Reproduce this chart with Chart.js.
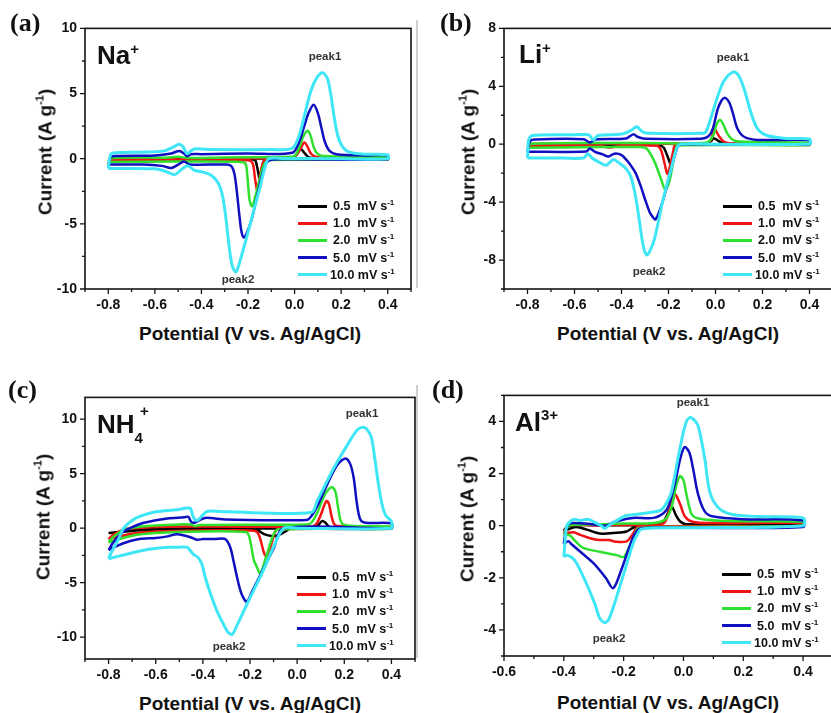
<!DOCTYPE html>
<html>
<head>
<meta charset="utf-8">
<title>CV curves at different scan rates</title>
<script src="https://cdn.jsdelivr.net/npm/chart.js@4.4.1/dist/chart.umd.min.js"></script>
<style>
  html, body { margin: 0; padding: 0; background: #fff; }
  #fig { position: relative; width: 831px; height: 713px; overflow: hidden; background: #fff;
         font-family: "Liberation Sans", Arial, sans-serif; color: #111; }
  #fig canvas { position: absolute; }
  .t { position: absolute; white-space: nowrap; line-height: 1; }
  .plab { font: bold 26px "Liberation Serif", "Times New Roman", serif; }
  .ion { font-weight: bold; font-size: 26px; }
  .ion .sp { font-size: 15px; position: relative; }
  .peak { font-weight: bold; font-size: 11.5px; color: #333; transform: translate(-50%, -50%); }
  .xt { font-weight: bold; font-size: 19px; transform: translate(-50%, -50%); }
  .yt { font-weight: bold; font-size: 19px; transform: translate(-50%, -50%) rotate(-90deg); }
  .sup { font-size: 11px; position: relative; top: -8px; }
  .lg { font-weight: bold; font-size: 12.5px; transform: translateY(-50%); }
  .lsup { font-size: 8px; position: relative; top: -5px; }
  .lgline { position: absolute; height: 3px; width: 29px; }
  .edge { position: absolute; width: 2px; background: #d0d0d0; }
</style>
</head>
<body>
<div id="fig"></div>
<script>
// scan rates (legend) and line colours
const scanRates = ['0.5', '1.0', '2.0', '5.0', '10.0'];
const lineColors = ['#000000', '#f01414', '#2fe02f', '#1010c0', '#3fe6f6'];

// tick values
const xTicksWide = [-0.8, -0.6, -0.4, -0.2, 0.0, 0.2, 0.4];
const xTicksAl = [-0.6, -0.4, -0.2, 0.0, 0.2, 0.4];
const yTicksNa = [-10, -5, 0, 5, 10];
const yTicksLi = [-8, -4, 0, 4, 8];
const yTicksNH4 = [-10, -5, 0, 5, 10];
const yTicksAl = [-4, -2, 0, 2, 4];

// (a) Na+  [potential V, current A/g], each loop: anodic sweep then cathodic sweep
const na05 = [[-0.8,-0.05],[-0.785,0.02],[-0.5,0.02],[-0.2,0.03],[-0.01,0.05],[0.008,0.3],[0.026,0.75],[0.042,0.45],[0.06,0.12],[0.1,0.03],[0.4,0.02],
  [0.4,-0.03],[0.0,-0.05],[-0.125,-0.05],[-0.138,-0.5],[-0.15,-1.5],[-0.16,-0.7],[-0.17,-0.12],[-0.2,-0.05],[-0.5,-0.05],[-0.8,-0.05]];
const na10 = [[-0.8,-0.12],[-0.785,0.0],[-0.55,0.0],[-0.5,-0.06],[-0.45,0.02],[-0.1,0.05],[-0.005,0.08],[0.02,0.6],[0.042,1.25],[0.056,0.9],[0.07,0.4],[0.09,0.15],[0.13,0.06],[0.4,0.05],
  [0.4,-0.05],[-0.1,-0.08],[-0.13,-0.15],[-0.145,-1.0],[-0.16,-2.4],[-0.17,-1.5],[-0.18,-0.35],[-0.2,-0.12],[-0.5,-0.12],[-0.8,-0.12]];
const na20 = [[-0.8,-0.25],[-0.785,0.05],[-0.55,0.08],[-0.5,0.15],[-0.46,0.05],[-0.3,0.1],[-0.01,0.15],[0.005,0.3],[0.022,0.95],[0.04,1.8],[0.057,2.15],[0.07,1.7],[0.08,1.0],[0.095,0.45],[0.12,0.2],[0.4,0.1],
  [0.4,-0.05],[-0.1,-0.1],[-0.13,-0.4],[-0.15,-1.6],[-0.17,-3.0],[-0.183,-3.65],[-0.193,-3.2],[-0.202,-1.5],[-0.21,-0.4],[-0.23,-0.25],[-0.5,-0.22],[-0.8,-0.25]];
const na50 = [[-0.8,-0.45],[-0.79,0.1],[-0.77,0.2],[-0.6,0.25],[-0.53,0.4],[-0.495,0.6],[-0.475,0.4],[-0.462,0.18],[-0.445,0.35],[-0.4,0.35],[-0.2,0.4],[-0.01,0.45],[0.02,1.3],[0.04,2.4],[0.06,3.5],[0.082,4.15],[0.1,3.5],[0.115,2.4],[0.13,1.3],[0.15,0.6],[0.18,0.35],[0.3,0.25],[0.4,0.25],
  [0.4,-0.05],[0.0,-0.05],[-0.1,-0.08],[-0.12,-0.3],[-0.14,-1.3],[-0.165,-3.2],[-0.185,-4.7],[-0.205,-5.7],[-0.217,-6.05],[-0.228,-5.6],[-0.238,-4.2],[-0.248,-2.5],[-0.258,-1.2],[-0.27,-0.6],[-0.29,-0.45],[-0.45,-0.45],[-0.475,-0.22],[-0.5,-0.45],[-0.53,-0.72],[-0.57,-0.55],[-0.65,-0.45],[-0.8,-0.45]];
const na100 = [[-0.8,-0.75],[-0.79,0.3],[-0.77,0.45],[-0.65,0.5],[-0.56,0.6],[-0.52,0.9],[-0.497,1.1],[-0.478,0.9],[-0.462,0.38],[-0.445,0.6],[-0.43,0.75],[-0.35,0.7],[-0.1,0.7],[-0.01,0.8],[0.02,1.8],[0.045,3.5],[0.07,5.2],[0.095,6.2],[0.12,6.6],[0.14,6.2],[0.155,5.0],[0.17,3.2],[0.185,1.8],[0.205,0.95],[0.235,0.5],[0.3,0.35],[0.4,0.3],
  [0.4,0.0],[0.2,0.0],[-0.05,0.02],[-0.11,0.0],[-0.125,-0.5],[-0.15,-2.3],[-0.18,-4.3],[-0.21,-6.3],[-0.235,-7.9],[-0.252,-8.7],[-0.268,-8.2],[-0.282,-6.6],[-0.296,-4.4],[-0.31,-2.8],[-0.33,-1.8],[-0.36,-1.25],[-0.4,-1.0],[-0.43,-0.9],[-0.458,-0.55],[-0.48,-0.75],[-0.515,-1.22],[-0.55,-1.0],[-0.6,-0.78],[-0.8,-0.75]];

// (b) Li+
const li05 = [[-0.8,-0.05],[-0.785,0.02],[-0.3,0.03],[-0.04,0.05],[-0.02,0.2],[-0.008,0.42],[0.01,0.25],[0.03,0.08],[0.1,0.03],[0.4,0.03],
  [0.4,-0.02],[-0.15,-0.03],[-0.165,-0.2],[-0.18,-0.8],[-0.191,-1.35],[-0.205,-0.8],[-0.22,-0.25],[-0.24,-0.05],[-0.5,-0.05],[-0.8,-0.05]];
const li10 = [[-0.8,-0.12],[-0.785,0.0],[-0.3,0.05],[-0.04,0.05],[-0.02,0.3],[-0.003,1.0],[0.015,0.55],[0.035,0.18],[0.07,0.05],[0.4,0.05],
  [0.4,-0.05],[-0.17,-0.05],[-0.18,-0.5],[-0.192,-1.4],[-0.205,-2.05],[-0.217,-1.3],[-0.232,-0.4],[-0.25,-0.1],[-0.4,-0.1],[-0.45,-0.22],[-0.5,-0.1],[-0.8,-0.12]];
const li20 = [[-0.8,-0.25],[-0.785,0.03],[-0.3,0.08],[-0.04,0.1],[-0.01,0.6],[0.005,1.4],[0.02,1.68],[0.035,1.3],[0.05,0.75],[0.07,0.35],[0.1,0.18],[0.4,0.1],
  [0.4,-0.05],[-0.16,-0.08],[-0.168,-0.3],[-0.18,-1.2],[-0.195,-2.5],[-0.213,-3.15],[-0.233,-2.35],[-0.26,-1.2],[-0.29,-0.35],[-0.32,-0.2],[-0.5,-0.2],[-0.8,-0.25]];
const li50 = [[-0.8,-0.52],[-0.79,0.2],[-0.77,0.33],[-0.56,0.35],[-0.535,0.12],[-0.51,0.33],[-0.38,0.4],[-0.35,0.68],[-0.33,0.5],[-0.3,0.38],[-0.06,0.38],[-0.03,0.55],[-0.012,1.04],[0.009,2.4],[0.025,3.0],[0.04,3.2],[0.058,2.9],[0.073,2.2],[0.094,1.05],[0.123,0.5],[0.18,0.3],[0.4,0.28],
  [0.4,0.0],[-0.14,0.0],[-0.159,-0.1],[-0.188,-1.65],[-0.216,-3.45],[-0.238,-4.6],[-0.256,-5.2],[-0.268,-5.0],[-0.28,-4.7],[-0.3,-3.8],[-0.316,-3.0],[-0.34,-2.0],[-0.373,-1.2],[-0.4,-0.75],[-0.43,-0.65],[-0.455,-0.85],[-0.48,-0.7],[-0.51,-0.55],[-0.535,-0.3],[-0.55,-0.5],[-0.8,-0.52]];
const li100 = [[-0.8,-0.95],[-0.795,0.3],[-0.78,0.6],[-0.6,0.65],[-0.54,0.65],[-0.52,0.3],[-0.5,0.6],[-0.4,0.7],[-0.36,0.95],[-0.335,1.2],[-0.31,0.85],[-0.28,0.75],[-0.06,0.75],[-0.041,0.85],[-0.02,1.8],[0.009,3.3],[0.037,4.4],[0.077,5.0],[0.1,4.7],[0.123,3.76],[0.151,2.17],[0.18,1.04],[0.22,0.6],[0.3,0.4],[0.4,0.36],
  [0.4,0.02],[0.0,0.0],[-0.15,0.0],[-0.165,-0.3],[-0.188,-1.65],[-0.224,-3.9],[-0.259,-6.5],[-0.28,-7.4],[-0.293,-7.65],[-0.305,-7.2],[-0.316,-6.2],[-0.337,-3.9],[-0.359,-2.3],[-0.38,-1.7],[-0.41,-1.3],[-0.435,-1.05],[-0.465,-1.45],[-0.5,-1.2],[-0.525,-0.95],[-0.544,-0.65],[-0.56,-0.95],[-0.65,-0.95],[-0.8,-0.95]];

// (c) NH4+
const nh05 = [[-0.8,-0.45],[-0.7,-0.2],[-0.6,-0.05],[-0.4,0.0],[0.07,0.02],[0.09,0.3],[0.106,0.65],[0.12,0.5],[0.135,0.15],[0.16,0.05],[0.4,0.05],
  [0.4,-0.02],[-0.03,-0.05],[-0.05,-0.3],[-0.08,-0.65],[-0.107,-0.72],[-0.14,-0.55],[-0.17,-0.15],[-0.2,-0.05],[-0.6,-0.12],[-0.7,-0.25],[-0.8,-0.45]];
const nh10 = [[-0.8,-1.0],[-0.78,-0.6],[-0.74,-0.15],[-0.7,0.0],[-0.5,0.15],[0.06,0.15],[0.08,0.35],[0.1,1.2],[0.115,2.1],[0.125,2.5],[0.135,2.2],[0.145,1.2],[0.155,0.45],[0.17,0.2],[0.4,0.1],
  [0.4,-0.05],[-0.08,-0.1],[-0.095,-0.4],[-0.11,-1.5],[-0.128,-2.65],[-0.14,-2.3],[-0.155,-1.1],[-0.17,-0.35],[-0.2,-0.2],[-0.6,-0.3],[-0.7,-0.5],[-0.8,-1.0]];
const nh20 = [[-0.8,-1.3],[-0.78,-0.8],[-0.74,-0.2],[-0.7,0.05],[-0.6,0.25],[-0.5,0.35],[-0.45,0.35],[-0.435,0.2],[-0.41,0.3],[0.04,0.35],[0.06,0.5],[0.085,1.4],[0.113,2.9],[0.135,3.6],[0.15,3.75],[0.163,3.3],[0.173,2.0],[0.183,0.8],[0.195,0.35],[0.25,0.2],[0.4,0.15],
  [0.4,-0.05],[-0.08,-0.1],[-0.1,-0.55],[-0.128,-2.36],[-0.156,-4.15],[-0.17,-3.6],[-0.184,-2.9],[-0.196,-1.5],[-0.206,-0.6],[-0.22,-0.35],[-0.4,-0.3],[-0.6,-0.45],[-0.7,-0.7],[-0.8,-1.3]];
const nh50 = [[-0.8,-2.0],[-0.78,-1.3],[-0.74,-0.35],[-0.71,0.0],[-0.65,0.5],[-0.55,0.9],[-0.48,1.0],[-0.462,1.05],[-0.45,0.6],[-0.435,0.5],[-0.41,0.8],[-0.385,0.95],[-0.3,0.8],[0.04,0.75],[0.06,1.1],[0.085,2.0],[0.127,4.0],[0.17,5.8],[0.205,6.4],[0.225,5.9],[0.24,4.6],[0.254,2.2],[0.268,0.8],[0.29,0.5],[0.4,0.45],
  [0.4,0.0],[-0.057,0.0],[-0.1,-1.86],[-0.128,-3.07],[-0.16,-4.46],[-0.19,-5.75],[-0.213,-6.75],[-0.228,-6.4],[-0.241,-5.7],[-0.255,-4.5],[-0.27,-3.0],[-0.284,-1.75],[-0.305,-1.0],[-0.35,-1.0],[-0.4,-1.0],[-0.425,-1.05],[-0.45,-0.85],[-0.475,-0.7],[-0.51,-0.55],[-0.55,-0.75],[-0.6,-0.9],[-0.67,-1.0],[-0.74,-1.4],[-0.8,-2.0]];
const nh100 = [[-0.8,-2.8],[-0.79,-2.3],[-0.76,-1.1],[-0.736,0.0],[-0.7,0.7],[-0.665,1.1],[-0.6,1.5],[-0.51,1.7],[-0.465,1.85],[-0.452,1.8],[-0.44,1.0],[-0.425,0.7],[-0.405,1.1],[-0.38,1.55],[-0.3,1.5],[0.06,1.45],[0.085,2.5],[0.113,3.7],[0.155,5.5],[0.212,7.6],[0.254,9.0],[0.275,9.25],[0.295,9.1],[0.315,8.3],[0.33,6.3],[0.345,4.0],[0.36,2.2],[0.375,1.2],[0.39,0.85],[0.4,0.6],
  [0.4,0.0],[0.0,0.0],[-0.057,0.0],[-0.1,-1.7],[-0.14,-3.7],[-0.18,-5.5],[-0.22,-7.3],[-0.255,-8.9],[-0.276,-9.75],[-0.295,-9.5],[-0.315,-8.7],[-0.34,-7.6],[-0.368,-6.0],[-0.39,-4.5],[-0.404,-3.3],[-0.42,-2.7],[-0.44,-2.4],[-0.467,-1.75],[-0.5,-1.75],[-0.55,-1.75],[-0.62,-1.9],[-0.69,-2.2],[-0.8,-2.8]];

// (d) Al3+
const al05 = [[-0.4,-0.2],[-0.385,0.0],[-0.3,0.02],[-0.1,0.03],[-0.07,0.1],[-0.055,0.4],[-0.04,0.75],[-0.025,0.4],[-0.01,0.15],[0.01,0.06],[0.4,0.05],
  [0.4,-0.02],[-0.16,-0.05],[-0.175,-0.12],[-0.19,-0.22],[-0.223,-0.27],[-0.28,-0.3],[-0.323,-0.15],[-0.36,-0.05],[-0.4,-0.2]];
const al10 = [[-0.4,-0.3],[-0.385,0.0],[-0.3,0.02],[-0.1,0.05],[-0.065,0.1],[-0.048,0.55],[-0.029,1.2],[-0.012,0.85],[0.005,0.35],[0.03,0.15],[0.1,0.1],[0.4,0.1],
  [0.4,-0.02],[-0.15,-0.05],[-0.172,-0.37],[-0.19,-0.6],[-0.223,-0.62],[-0.25,-0.55],[-0.28,-0.55],[-0.312,-0.48],[-0.345,-0.35],[-0.368,-0.25],[-0.4,-0.3]];
const al20 = [[-0.4,-0.35],[-0.39,-0.1],[-0.38,0.02],[-0.3,0.05],[-0.2,0.08],[-0.1,0.1],[-0.06,0.25],[-0.04,0.7],[-0.025,1.5],[-0.012,1.9],[0.0,1.75],[0.01,1.2],[0.027,0.45],[0.05,0.28],[0.15,0.18],[0.4,0.15],
  [0.4,0.0],[0.0,-0.05],[-0.15,-0.1],[-0.165,-0.4],[-0.184,-0.88],[-0.2,-1.2],[-0.223,-1.13],[-0.28,-1.0],[-0.335,-0.85],[-0.365,-0.55],[-0.38,-0.37],[-0.4,-0.35]];
const al50 = [[-0.4,-0.7],[-0.395,-0.3],[-0.385,0.05],[-0.37,0.1],[-0.3,0.05],[-0.26,0.0],[-0.23,0.15],[-0.17,0.3],[-0.1,0.3],[-0.065,0.5],[-0.05,0.75],[-0.029,1.6],[-0.01,2.6],[0.004,3.02],[0.02,2.8],[0.032,2.2],[0.049,1.2],[0.071,0.55],[0.1,0.35],[0.2,0.25],[0.4,0.2],
  [0.4,-0.05],[0.0,-0.08],[-0.14,-0.1],[-0.163,-0.32],[-0.185,-0.95],[-0.208,-1.7],[-0.235,-2.4],[-0.26,-2.0],[-0.3,-1.45],[-0.34,-1.05],[-0.375,-0.7],[-0.385,-0.6],[-0.4,-0.7]];
const al100 = [[-0.4,-1.2],[-0.395,-0.5],[-0.39,0.0],[-0.375,0.2],[-0.364,0.25],[-0.345,0.2],[-0.32,0.25],[-0.3,0.15],[-0.275,0.0],[-0.263,-0.1],[-0.245,0.05],[-0.23,0.15],[-0.2,0.35],[-0.185,0.4],[-0.15,0.45],[-0.118,0.5],[-0.075,0.6],[-0.055,0.9],[-0.04,1.3],[-0.018,2.6],[0.0,3.6],[0.012,4.05],[0.024,4.15],[0.04,4.0],[0.05,3.8],[0.071,2.6],[0.088,1.3],[0.116,0.7],[0.16,0.44],[0.25,0.35],[0.4,0.3],
  [0.4,0.0],[0.0,-0.08],[-0.14,-0.13],[-0.155,-0.35],[-0.169,-0.7],[-0.196,-1.7],[-0.23,-2.97],[-0.25,-3.6],[-0.263,-3.72],[-0.28,-3.55],[-0.297,-2.97],[-0.33,-2.08],[-0.364,-1.32],[-0.39,-1.13],[-0.4,-1.2]];

// panel layout (page pixels)
const panels = [
  { key: 'a', area: [85, 24, 411, 289], x: [-0.9, 0.5], y: [-10, 10], xTicks: xTicksWide, yTicks: yTicksNa, xMinor: 0.1, yMinor: 2.5,
    series: [na05, na10, na20, na50, na100],
    label: [10, 8], ion: [97, 42], ionHtml: 'Na<span class="sp" style="top:-10px">+</span>',
    peak1: [325, 57], peak2: [238, 280], legend: [298, 206], xTitle: [250, 333], yTitle: [45, 152] },
  { key: 'b', area: [504, 24, 833, 289], x: [-0.9, 0.5], y: [-10, 8], xTicks: xTicksWide, yTicks: yTicksLi, xMinor: 0.1, yMinor: 2,
    series: [li05, li10, li20, li50, li100],
    label: [440, 8], ion: [519, 41], ionHtml: 'Li<span class="sp" style="top:-10px">+</span>',
    peak1: [733, 58], peak2: [649, 272], legend: [723, 206], xTitle: [668, 333], yTitle: [468, 152] },
  { key: 'c', area: [85, 393, 415, 659], x: [-0.9, 0.5], y: [-12, 12], xTicks: xTicksWide, yTicks: yTicksNH4, xMinor: 0.1, yMinor: 2.5,
    series: [nh05, nh10, nh20, nh50, nh100],
    label: [8, 375], ion: [97, 411], ionHtml: 'NH<span class="sp" style="top:10px">4</span><span class="sp" style="top:-17px;margin-left:-3px">+</span>',
    peak1: [362, 414], peak2: [229, 647], legend: [297, 577], xTitle: [250, 703], yTitle: [43, 517] },
  { key: 'd', area: [504, 391, 833, 656], x: [-0.6, 0.5], y: [-5, 5], xTicks: xTicksAl, yTicks: yTicksAl, xMinor: 0.1, yMinor: 1,
    series: [al05, al10, al20, al50, al100],
    label: [432, 375], ion: [515, 409], ionHtml: 'Al<span class="sp" style="top:-11px">3+</span>',
    peak1: [693, 403], peak2: [609, 639], legend: [722, 574], xTitle: [668, 702], yTitle: [467, 519] }
];

const fig = document.getElementById('fig');
const tickFont = { family: '"Liberation Sans", Arial, sans-serif', size: 14, weight: 'bold' };

function minorValues(min, max, step) {
  const out = [];
  for (let k = Math.ceil(min / step - 1e-9); k * step <= max + 1e-9; k++) out.push(k * step);
  return out;
}

// frame and outward tick marks (major + minor) drawn from the chart scales
const frameTicks = {
  id: 'frameTicks',
  afterDraw(chart, args, opts) {
    const { ctx, chartArea: a, scales: { x, y } } = chart;
    ctx.save();
    ctx.strokeStyle = '#151515';
    ctx.lineWidth = 1.6;
    ctx.strokeRect(a.left, a.top, a.right - a.left, a.bottom - a.top);
    ctx.lineWidth = 1.3;
    ctx.beginPath();
    opts.xMinor.forEach(v => { const px = x.getPixelForValue(v); ctx.moveTo(px, a.bottom); ctx.lineTo(px, a.bottom + 3); });
    opts.xMajor.forEach(v => { const px = x.getPixelForValue(v); ctx.moveTo(px, a.bottom); ctx.lineTo(px, a.bottom + 5); });
    opts.yMinor.forEach(v => { const py = y.getPixelForValue(v); ctx.moveTo(a.left, py); ctx.lineTo(a.left - 3, py); });
    opts.yMajor.forEach(v => { const py = y.getPixelForValue(v); ctx.moveTo(a.left, py); ctx.lineTo(a.left - 5, py); });
    ctx.stroke();
    ctx.restore();
  }
};

function addText(cls, pos, html) {
  const d = document.createElement('div');
  d.className = 't ' + cls;
  d.style.left = pos[0] + 'px';
  d.style.top = pos[1] + 'px';
  d.innerHTML = html;
  fig.appendChild(d);
  return d;
}

function buildPanel(p) {
  const padL = 70, padT = 12, padR = 4, padB = 32;
  const [L, T, R, B] = p.area;
  const cv = document.createElement('canvas');
  cv.width = R - L + padL + padR;
  cv.height = B - T + padT + padB;
  cv.style.left = (L - padL) + 'px';
  cv.style.top = (T - padT) + 'px';
  fig.appendChild(cv);

  new Chart(cv, {
    type: 'scatter',
    data: {
      datasets: p.series.map((s, i) => ({
        label: scanRates[i] + ' mV s-1',
        data: s,
        showLine: true,
        borderColor: lineColors[i],
        backgroundColor: lineColors[i],
        borderWidth: i === 4 ? 3.0 : 2.5,
        pointRadius: 0,
        tension: 0.3,
        borderJoinStyle: 'round',
        order: 4 - i
      }))
    },
    options: {
      responsive: false,
      animation: false,
      events: [],
      layout: { padding: { left: 0, top: padT, right: padR, bottom: 0 } },
      plugins: {
        legend: { display: false },
        tooltip: { enabled: false },
        frameTicks: {
          xMajor: p.xTicks, yMajor: p.yTicks,
          xMinor: minorValues(p.x[0], p.x[1], p.xMinor),
          yMinor: minorValues(p.y[0], p.y[1], p.yMinor)
        }
      },
      scales: {
        x: {
          type: 'linear', min: p.x[0], max: p.x[1],
          grid: { display: false, drawTicks: false },
          border: { display: false },
          ticks: { font: tickFont, color: '#111', padding: 8, callback: v => v.toFixed(1) },
          afterBuildTicks: s => { s.ticks = p.xTicks.map(v => ({ value: v })); },
          afterFit: s => { s.height = padB; }
        },
        y: {
          type: 'linear', min: p.y[0], max: p.y[1],
          grid: { display: false, drawTicks: false },
          border: { display: false },
          ticks: { font: tickFont, color: '#111', padding: 8, callback: v => String(v) },
          afterBuildTicks: s => { s.ticks = p.yTicks.map(v => ({ value: v })); },
          afterFit: s => { s.width = padL; }
        }
      }
    },
    plugins: [frameTicks]
  });

  // texts
  addText('plab', p.label, '(' + p.key + ')');
  addText('ion', p.ion, p.ionHtml);
  addText('peak', p.peak1, 'peak1');
  addText('peak', p.peak2, 'peak2');
  addText('xt', p.xTitle, 'Potential (V vs. Ag/AgCl)');
  addText('yt', p.yTitle, 'Current (A g<span class="sup">-1</span>)');

  scanRates.forEach((r, i) => {
    const cy = p.legend[1] + i * 17.2;
    const ln = document.createElement('div');
    ln.className = 'lgline';
    ln.style.left = p.legend[0] + 'px';
    ln.style.top = (cy - 1.5) + 'px';
    ln.style.background = lineColors[i];
    fig.appendChild(ln);
    const txt = r + (r.length < 4 ? '&nbsp; ' : ' ') + 'mV s<span class="lsup">-1</span>';
    addText('lg', [p.legend[0] + (r.length < 4 ? 35 : 32), cy], txt);
  });
}

// faint divider seen between the left and right panels
[[416, 20, 268], [416, 385, 273]].forEach(([x, y, h]) => {
  const e = document.createElement('div');
  e.className = 'edge';
  e.style.left = x + 'px'; e.style.top = y + 'px'; e.style.height = h + 'px';
  fig.appendChild(e);
});

panels.forEach(buildPanel);
</script>
</body>
</html>
